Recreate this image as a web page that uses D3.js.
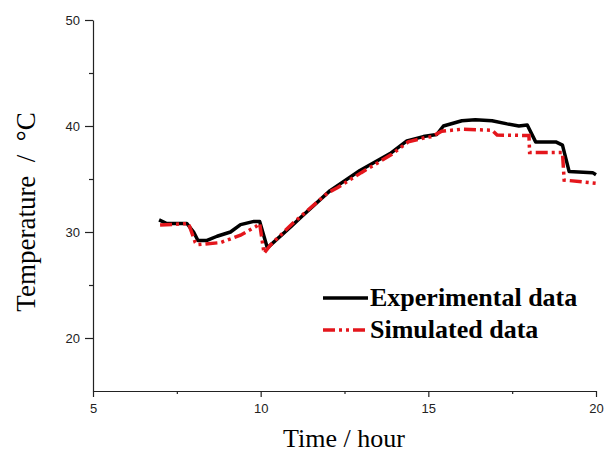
<!DOCTYPE html>
<meta charset="utf-8">
<style>
body { margin: 0; padding: 0; background: #fff; }
svg { display: block; }
</style>
<script src="https://d3js.org/d3.v7.min.js"></script>
<div id="chart"></div>
<script>
// values
const expTime = [6.97, 7.2, 7.8, 8.0, 8.13, 8.4, 8.7, 9.1, 9.4, 9.8, 9.97, 10.2, 10.9, 11.2, 12.07, 12.96, 13.86, 14.36, 14.85, 15.25, 15.45, 16.0, 16.4, 16.9, 17.35, 17.7, 17.95, 18.2, 18.8, 19.0, 19.2, 19.9, 20.0];
const expTemp = [31.15, 30.8, 30.8, 30.0, 29.2, 29.2, 29.6, 30.0, 30.7, 31.0, 31.0, 28.5, 30.5, 31.4, 33.9, 35.8, 37.4, 38.6, 39.0, 39.2, 40.0, 40.5, 40.6, 40.5, 40.2, 40.0, 40.1, 38.5, 38.5, 38.2, 35.7, 35.6, 35.4];
const simTime = [7.0, 7.85, 8.05, 8.1, 8.8, 9.4, 9.85, 9.97, 10.1, 10.3, 10.95, 11.17, 12.0, 12.3, 13.0, 13.9, 14.4, 14.9, 15.1, 15.4, 16.0, 16.9, 17.05, 18.0, 18.02, 19.0, 19.05, 20.0];
const simTemp = [30.65, 30.8, 29.0, 28.8, 29.0, 29.7, 30.5, 30.8, 28.0, 28.8, 30.8, 31.4, 33.7, 34.2, 35.6, 37.3, 38.5, 38.9, 39.0, 39.5, 39.7, 39.6, 39.15, 39.1, 37.5, 37.5, 34.9, 34.6];
const xTicks = [5, 10, 15, 20];
const yTicks = [20, 30, 40, 50];
const legendLabels = ["Experimental data", "Simulated data"];

const W = 604, H = 455;
const margin = {top: 20, right: 8, bottom: 64, left: 93};

const svg = d3.select("#chart").append("svg")
  .attr("width", W).attr("height", H);

const x = d3.scaleLinear().domain([5, 20]).range([margin.left, W - margin.right]);
const y = d3.scaleLinear().domain([15, 50]).range([H - margin.bottom, margin.top]);

// minor ticks first, then the main axes on top
svg.append("g")
  .attr("transform", `translate(0,${H - margin.bottom})`)
  .call(d3.axisBottom(x).tickValues([7.5, 12.5, 17.5]).tickSize(3).tickFormat(""))
  .call(g => g.select(".domain").remove());
svg.append("g")
  .attr("transform", `translate(${margin.left},0)`)
  .call(d3.axisLeft(y).tickValues([25, 35, 45]).tickSize(4).tickFormat(""))
  .call(g => g.select(".domain").remove());

svg.append("g")
  .attr("transform", `translate(0,${H - margin.bottom})`)
  .call(d3.axisBottom(x).tickValues(xTicks).tickSize(6).tickSizeOuter(0).tickPadding(7));
svg.append("g")
  .attr("transform", `translate(${margin.left},0)`)
  .call(d3.axisLeft(y).tickValues(yTicks).tickSize(8).tickSizeOuter(0).tickPadding(5));

svg.selectAll(".tick text")
  .attr("font-family", "Liberation Sans, Arial, sans-serif")
  .attr("font-size", 13)
  .attr("fill", "#222");
svg.selectAll(".domain, .tick line").attr("stroke", "#222").attr("stroke-width", 1.2);

// axis titles
svg.append("text")
  .attr("x", 344).attr("y", 447)
  .attr("text-anchor", "middle")
  .attr("font-family", "Liberation Serif, Times New Roman, serif")
  .attr("font-size", 26)
  .text("Time / hour");
svg.append("text")
  .attr("transform", "translate(35,212) rotate(-90)")
  .attr("text-anchor", "middle")
  .attr("font-family", "Liberation Serif, Times New Roman, serif")
  .attr("font-size", 27)
  .attr("xml:space", "preserve")
  .text("Temperature  /  \u00B0C");

const line = d3.line()
  .x(d => x(d[0]))
  .y(d => y(d[1]));

const expData = d3.zip(expTime, expTemp);
const simData = d3.zip(simTime, simTemp);

svg.append("path")
  .datum(expData)
  .attr("fill", "none")
  .attr("stroke", "#000")
  .attr("stroke-width", 3.5)
  .attr("stroke-linejoin", "round")
  .attr("d", line);

const dash = "12,4,3,4,3,4";
svg.append("path")
  .datum(simData)
  .attr("fill", "none")
  .attr("stroke", "#e4161c")
  .attr("stroke-width", 3.5)
  .attr("stroke-dasharray", dash)
  .attr("d", line);

// legend
const legend = svg.append("g");
const legendStyles = [
  {stroke: "#000", dash: null, y: 298},
  {stroke: "#e4161c", dash: dash, y: 330}
];
legendLabels.forEach((lab, i) => {
  const s = legendStyles[i];
  legend.append("line")
    .attr("x1", 323).attr("x2", 368)
    .attr("y1", s.y).attr("y2", s.y)
    .attr("stroke", s.stroke)
    .attr("stroke-width", 3.5)
    .attr("stroke-dasharray", s.dash);
  legend.append("text")
    .attr("x", 370).attr("y", s.y + 8)
    .attr("font-family", "Liberation Serif, Times New Roman, serif")
    .attr("font-weight", "bold")
    .attr("font-size", 26)
    .text(lab);
});
</script>
